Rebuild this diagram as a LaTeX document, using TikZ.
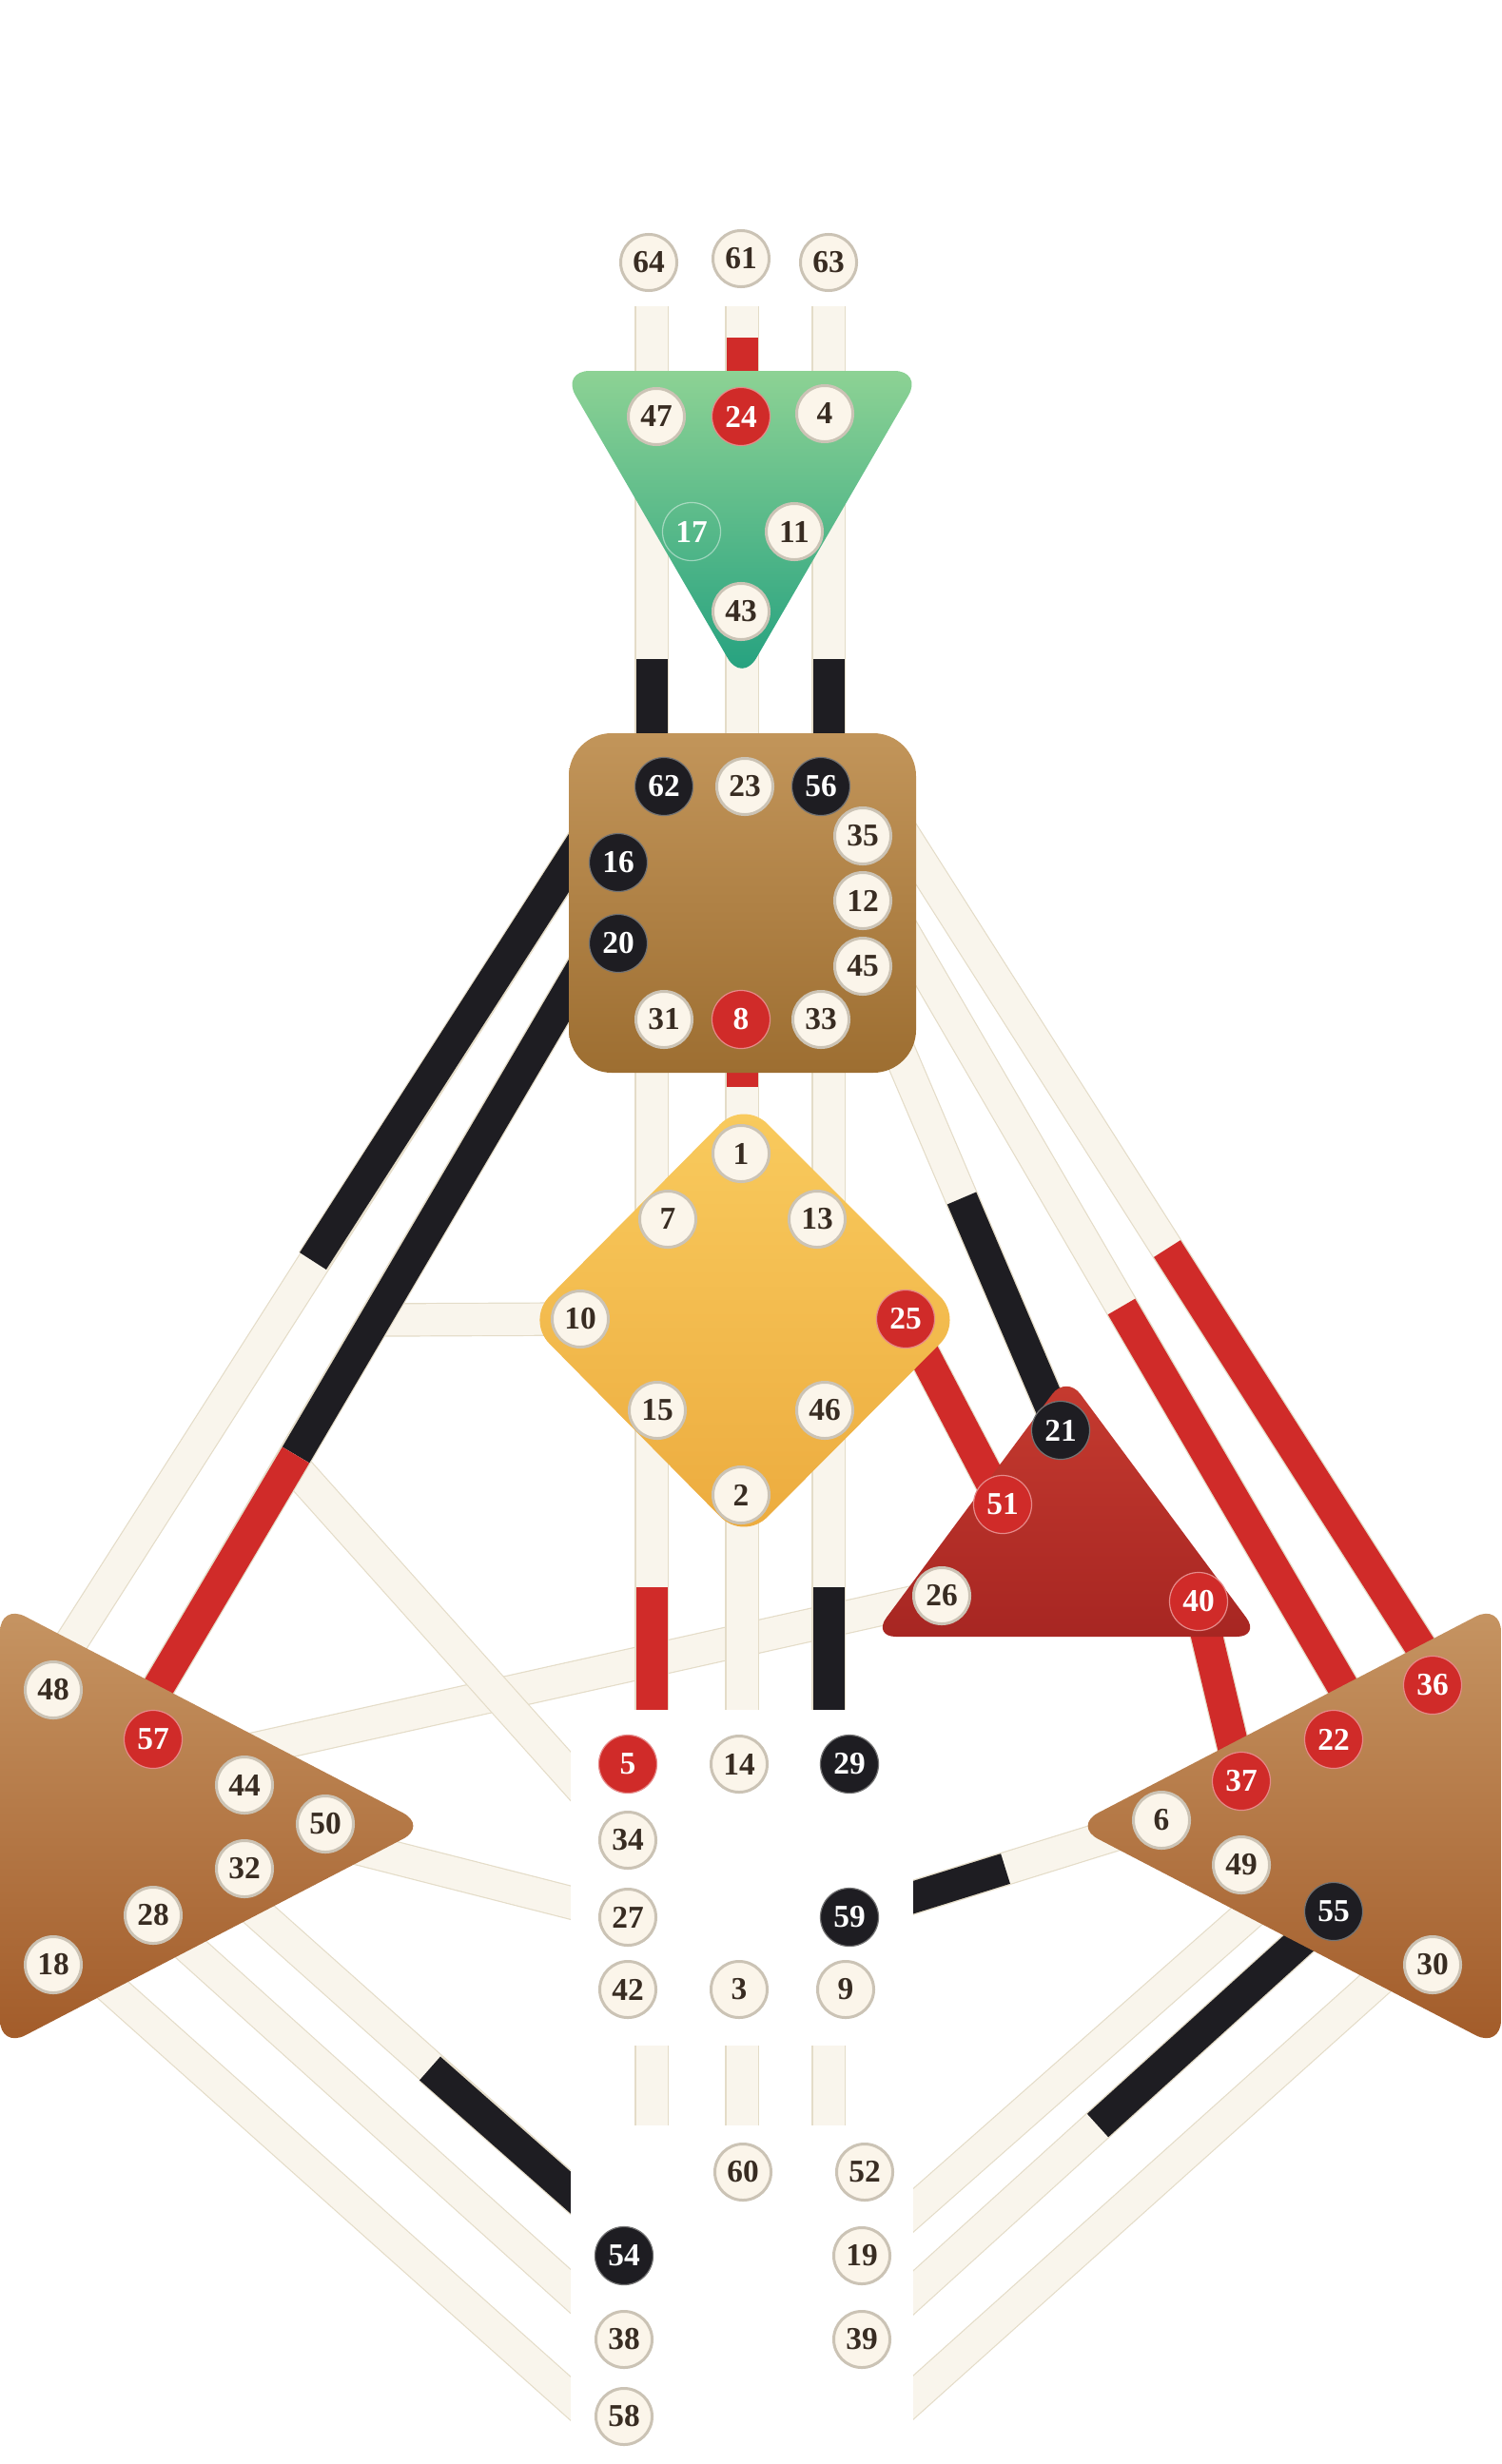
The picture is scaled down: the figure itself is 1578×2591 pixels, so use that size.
\documentclass[tikz,border=0pt]{standalone}
\usepackage{fontspec}
\setmainfont{Liberation Serif}
\usetikzlibrary{calc}

\definecolor{chanfill}{HTML}{F9F5EC}
\definecolor{chanedge}{HTML}{E4DCC8}
\definecolor{hdred}{HTML}{D02B29}
\definecolor{hdblack}{HTML}{1E1D22}
\definecolor{gatecream}{HTML}{FBF5EA}
\definecolor{gateedge}{HTML}{CBC3B5}
\definecolor{gatetext}{HTML}{382C22}
\definecolor{ajnatop}{HTML}{8DD294}
\definecolor{ajnabot}{HTML}{22A07F}
\definecolor{throattop}{HTML}{C2955A}
\definecolor{throatbot}{HTML}{9D6E31}
\definecolor{gtop}{HTML}{F9CB5E}
\definecolor{gbot}{HTML}{ECAB3E}
\definecolor{egotop}{HTML}{C63B30}
\definecolor{egobot}{HTML}{A72622}
\definecolor{sptop}{HTML}{C69563}
\definecolor{spbot}{HTML}{A25B29}

\pgfdeclarelayer{channels}
\pgfdeclarelayer{centers}
\pgfsetlayers{channels,centers,main}

\begin{document}
\begin{tikzpicture}[
    x=0.01cm, y=-0.01cm,
    chan/.style = {draw=chanedge, line width=0.012cm, double=chanfill, double distance=0.33cm},
    redchan/.style = {chan, double=hdred},
    blackchan/.style = {chan, double=hdblack},
    gate/.style = {circle, draw=gateedge, line width=0.03cm, fill=gatecream, minimum size=0.59cm, inner sep=0pt, text=gatetext, font=\fontsize{9.5}{10}\selectfont\bfseries},
    redgate/.style = {gate, fill=hdred, draw=hdred!55!white, line width=0.012cm, minimum size=0.61cm, text=white},
    blackgate/.style = {gate, fill=hdblack, draw=black!55, line width=0.012cm, minimum size=0.61cm, text=white},
    ghostgate/.style = {gate, fill=none, draw=white, draw opacity=0.45, line width=0.012cm, minimum size=0.61cm, text=white},
    blank/.style = {rectangle, fill=white, draw=none, inner sep=0pt}
]
    \useasboundingbox (0,0) rectangle (1578,2591);

    % head
    \node[gate] (g64) at (682,276) {64};
    \node[gate] (g61) at (779,272) {61};
    \node[gate] (g63) at (871,276) {63};
    % ajna
    \node[gate] (g47) at (690,438) {47};
    \node[redgate] (g24) at (779,438) {24};
    \node[gate] (g4) at (867,435) {4};
    \node[ghostgate] (g17) at (727,559) {17};
    \node[gate] (g11) at (835,559) {11};
    \node[gate] (g43) at (779,643) {43};
    % throat
    \node[blackgate] (g62) at (698,827) {62};
    \node[gate] (g23) at (783,827) {23};
    \node[blackgate] (g56) at (863,827) {56};
    \node[gate] (g35) at (907,879) {35};
    \node[gate] (g12) at (907,947) {12};
    \node[gate] (g45) at (907,1016) {45};
    \node[blackgate] (g16) at (650,907) {16};
    \node[blackgate] (g20) at (650,992) {20};
    \node[gate] (g31) at (698,1072) {31};
    \node[redgate] (g8) at (779,1072) {8};
    \node[gate] (g33) at (863,1072) {33};
    % g center
    \node[gate] (g1) at (779,1213) {1};
    \node[gate] (g7) at (702,1282) {7};
    \node[gate] (g13) at (859,1282) {13};
    \node[gate] (g10) at (610,1387) {10};
    \node[redgate] (g25) at (952,1387) {25};
    \node[gate] (g15) at (691,1483) {15};
    \node[gate] (g46) at (867,1483) {46};
    \node[gate] (g2) at (779,1572) {2};
    % ego
    \node[blackgate] (g21) at (1115,1504) {21};
    \node[redgate] (g51) at (1054,1582) {51};
    \node[gate] (g26) at (990,1678) {26};
    \node[redgate] (g40) at (1260,1684) {40};
    % solar plexus
    \node[redgate] (g36) at (1506,1772) {36};
    \node[redgate] (g22) at (1402,1829) {22};
    \node[redgate] (g37) at (1305,1873) {37};
    \node[gate] (g6) at (1221,1914) {6};
    \node[gate] (g49) at (1305,1961) {49};
    \node[blackgate] (g55) at (1402,2010) {55};
    \node[gate] (g30) at (1506,2066) {30};
    % spleen
    \node[gate] (g48) at (56,1777) {48};
    \node[redgate] (g57) at (161,1829) {57};
    \node[gate] (g44) at (257,1877) {44};
    \node[gate] (g50) at (342,1918) {50};
    \node[gate] (g32) at (257,1965) {32};
    \node[gate] (g28) at (161,2014) {28};
    \node[gate] (g18) at (56,2066) {18};
    % sacral
    \node[redgate] (g5) at (660,1855) {5};
    \node[gate] (g14) at (777,1855) {14};
    \node[blackgate] (g29) at (893,1855) {29};
    \node[gate] (g34) at (660,1935) {34};
    \node[gate] (g27) at (660,2016) {27};
    \node[blackgate] (g59) at (893,2016) {59};
    \node[gate] (g42) at (660,2092) {42};
    \node[gate] (g3) at (777,2092) {3};
    \node[gate] (g9) at (889,2092) {9};
    % root
    \node[gate] (g60) at (781,2284) {60};
    \node[gate] (g52) at (909,2284) {52};
    \node[blackgate] (g54) at (656,2372) {54};
    \node[gate] (g19) at (906,2372) {19};
    \node[gate] (g38) at (656,2460) {38};
    \node[gate] (g39) at (906,2460) {39};
    \node[gate] (g58) at (656,2541) {58};

    % channel ends and splits
    \coordinate (stubtop) at (0,322);
    \coordinate (colL) at (685,0);
    \coordinate (colM) at (780,0);
    \coordinate (colR) at (871,0);
    \coordinate (c16) at (640,842);
    \coordinate (s16) at (329,1326);
    \coordinate (c48) at (43,1777);
    \coordinate (c20) at (650,953);
    \coordinate (s20) at (311,1530);
    \coordinate (c57) at (144,1812);
    \coordinate (c10) at (392,1388);
    \coordinate (c34) at (306,1539);
    \coordinate (c35) at (940,862);
    \coordinate (s35) at (1227,1313);
    \coordinate (c36) at (1519,1772);
    \coordinate (c12) at (940,963);
    \coordinate (s12) at (1179,1374);
    \coordinate (c22) at (1430,1805);
    \coordinate (c44) at (258,1841);
    \coordinate (c50) at (342,1935);
    \coordinate (c32) at (240,1984);
    \coordinate (s32) at (452,2175);
    \coordinate (c54) at (640,2341);
    \coordinate (c18) at (60,2040);
    \coordinate (c58) at (640,2558);
    \coordinate (c49) at (1340,1989);
    \coordinate (c30) at (1500,2037);
    \coordinate (c41) at (920,2557);
    \coordinate (s61) at ($(g61.center)!.5!(g24.center)$);
    \coordinate (s17) at ($(g17.center)!.5!(g62.center)$);
    \coordinate (s11) at ($(g11.center)!.5!(g56.center)$);
    \coordinate (s8) at ($(g8.center)!.5!(g1.center)$);
    \coordinate (s15) at ($(g15.center)!.5!(g5.center)$);
    \coordinate (s46) at ($(g46.center)!.5!(g29.center)$);
    \coordinate (s45) at ($(g45.center)!.5!(g21.center)$);
    \coordinate (s6) at ($(g6.center)!.5!(g59.center)$);
    \coordinate (s55) at ($(g55.center)!.5!(g39.center)$);

    \begin{pgfonlayer}{channels}
    % open channels
    \draw[chan] (colL |- stubtop) -- (colL |- g47);
    \draw[chan] (colM |- stubtop) -- (colM |- g24);
    \draw[chan] (colR |- stubtop) -- (colR |- g4);
    \draw[chan] (colL |- g47) -- (colL |- g62);
    \draw[chan] (colM |- g43) -- (colM |- g23);
    \draw[chan] (colR |- g4) -- (colR |- g56);
    \draw[chan] (colL |- g31) -- (colL |- g7);
    \draw[chan] (colM |- g8) -- (colM |- g1);
    \draw[chan] (colR |- g33) -- (colR |- g13);
    \draw[chan] (c44) -- (g26.center);
    \draw[chan] (colL |- g15) -- (colL |- g5);
    \draw[chan] (colM |- g2) -- (colM |- g14);
    \draw[chan] (colR |- g46) -- (colR |- g29);
    \draw[chan] (colL |- g42) -- (colL |- g54);
    \draw[chan] (colM |- g3) -- (colM |- g60);
    \draw[chan] (colR |- g9) -- (colR |- g52);
    \draw[chan] (c16) -- (c48);
    \draw[chan] (c20) -- (c57);
    \draw[chan] (c10) -- (g10.center);
    \draw[chan] (c34) -- (g34.center);
    \draw[chan] (c35) -- (c36);
    \draw[chan] (c12) -- (c22);
    \draw[chan] (g45.center) -- (g21.center);
    \draw[chan] (c50) -- (g27.center);
    \draw[chan] (c32) -- (c54);
    \draw[chan] (g28.center) -- (g38.center);
    \draw[chan] (c18) -- (c58);
    \draw[chan] (g6.center) -- (g59.center);
    \draw[chan] (c49) -- (g19.center);
    \draw[chan] (g55.center) -- (g39.center);
    \draw[chan] (c30) -- (c41);
    % defined halves
    \draw[redchan] (colM |- s61) -- (colM |- g24);
    \draw[blackchan] (colL |- s17) -- (colL |- g62);
    \draw[blackchan] (colR |- s11) -- (colR |- g56);
    \draw[redchan] (colM |- g8) -- (colM |- s8);
    \draw[redchan] (colL |- s15) -- (colL |- g5);
    \draw[blackchan] (colR |- s46) -- (colR |- g29);
    \draw[blackchan] (c16) -- (s16);
    \draw[blackchan] (c20) -- (s20);
    \draw[redchan] (s20) -- (c57);
    \draw[redchan] (s35) -- (c36);
    \draw[redchan] (s12) -- (c22);
    \draw[blackchan] (s45) -- (g21.center);
    \draw[redchan] (g25.center) -- (g51.center);
    \draw[redchan] (g40.center) -- (g37.center);
    \draw[blackchan] (s6) -- (g59.center);
    \draw[blackchan] (s55) -- (g55.center);
    \draw[blackchan] (s32) -- (c54);
    \end{pgfonlayer}

    \begin{pgfonlayer}{centers}
    % ajna
    \path[top color=ajnatop, bottom color=ajnabot, rounded corners=0.3cm] (590,390) -- (970,390) -- (780,718) -- cycle;
    % throat
    \path[top color=throattop, bottom color=throatbot, rounded corners=0.45cm] (598,771) rectangle (963,1128);
    % g center
    \path[top color=gtop, bottom color=gbot, rounded corners=0.35cm] (782,1157) -- (1013,1388) -- (782,1620) -- (553,1388) -- cycle;
    % ego
    \path[top color=egotop, bottom color=egobot, rounded corners=0.25cm] (1121,1446) -- (1325,1721) -- (917,1721) -- cycle;
    % spleen and solar plexus
    \path[top color=sptop, bottom color=spbot, rounded corners=0.3cm] (0,1686) -- (450,1920) -- (0,2154) -- cycle;
    \path[top color=sptop, bottom color=spbot, rounded corners=0.3cm] (1578,1686) -- (1128,1920) -- (1578,2154) -- cycle;
    % sacral and root left open
    \node[blank, minimum width=3.6cm, minimum height=3.53cm] (sacral) at (780,1974.5) {};
    \node[blank, minimum width=3.6cm, minimum height=3.56cm] (root) at (780,2413) {};
    \end{pgfonlayer}
\end{tikzpicture}
\end{document}
